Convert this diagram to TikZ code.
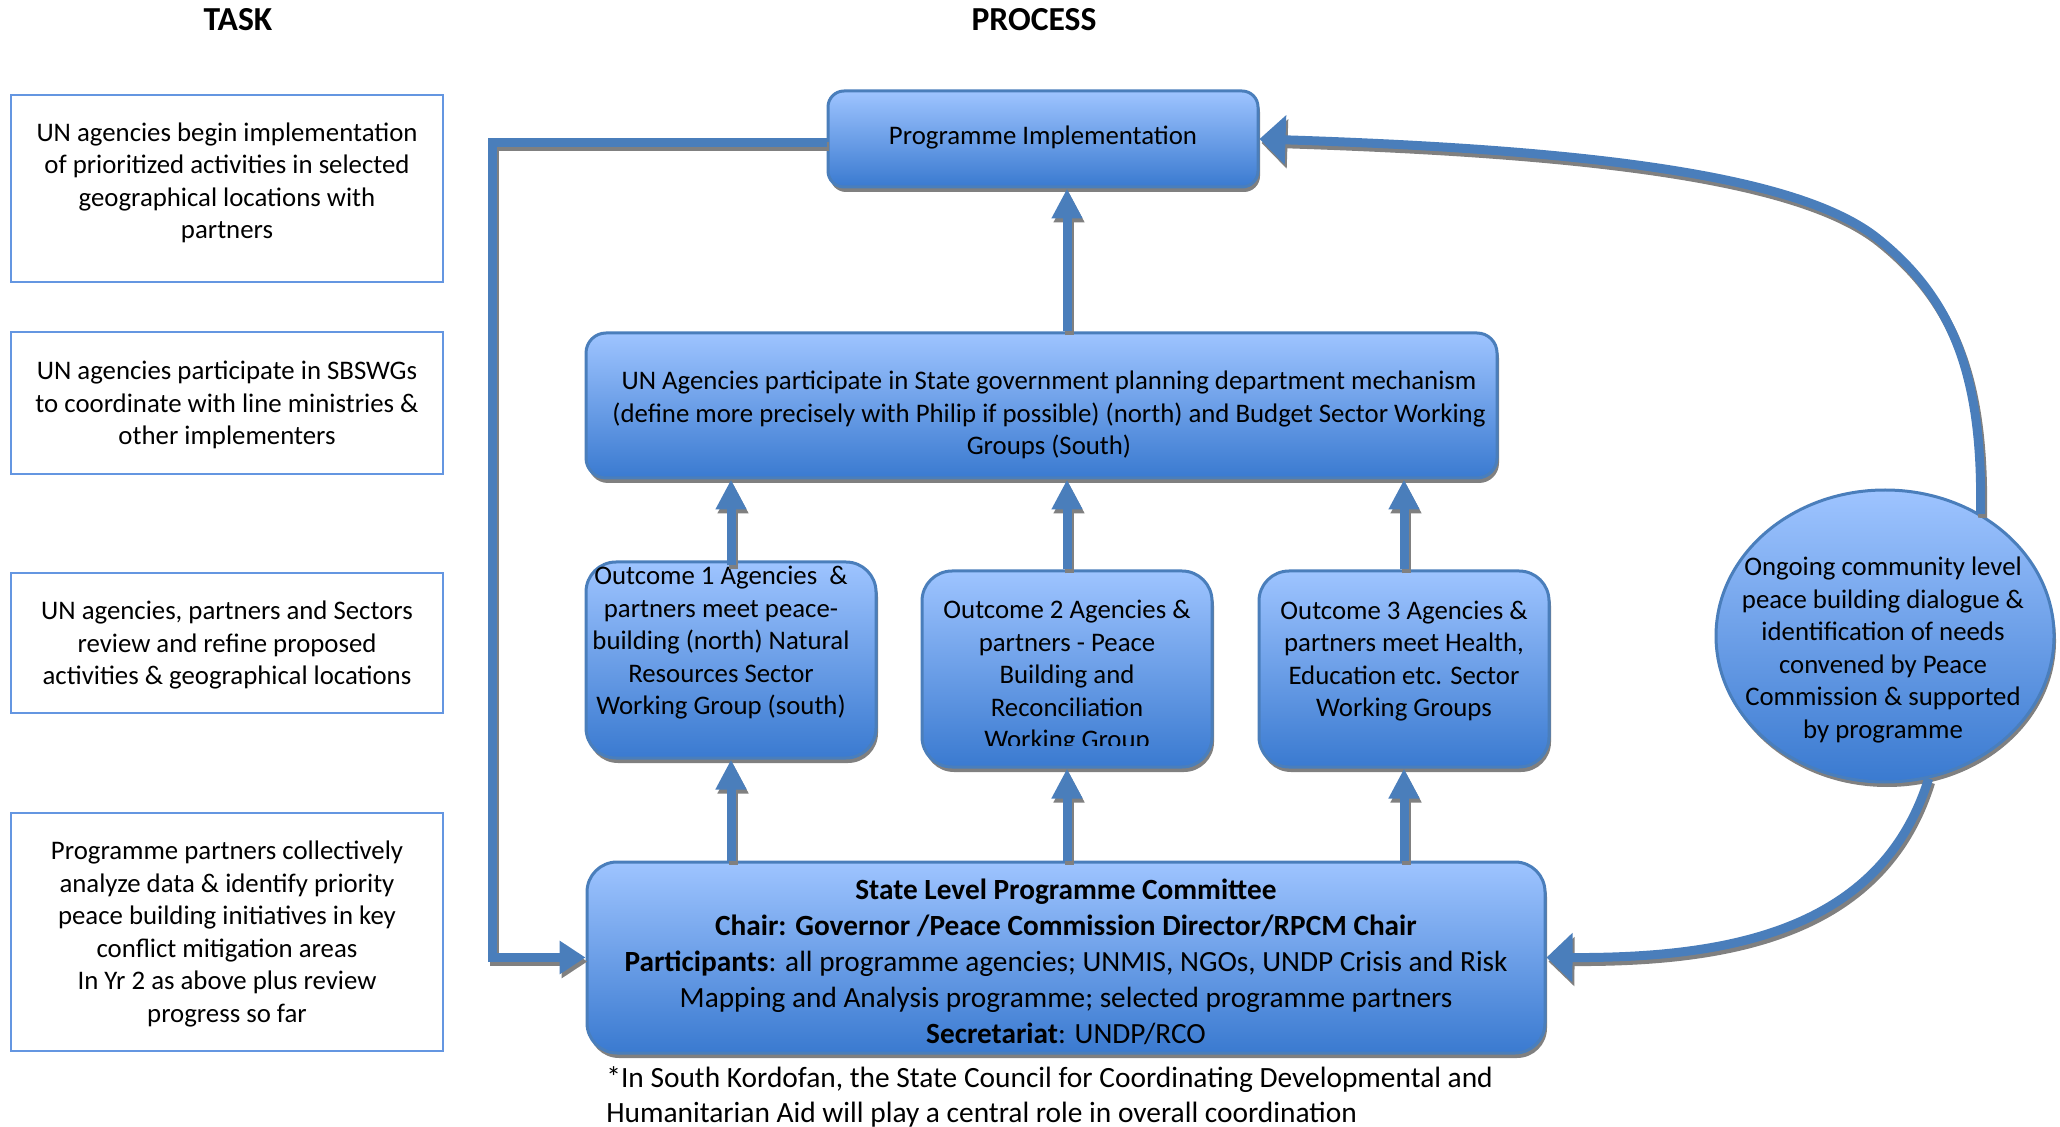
\documentclass[tikz,border=0pt]{standalone}
\usepackage{fontspec}
\setmainfont{Carlito}
\usetikzlibrary{arrows.meta,shapes.geometric,shadows}
\definecolor{boxtop}{RGB}{158,196,255}
\definecolor{boxbot}{RGB}{58,122,208}
\definecolor{boxline}{RGB}{74,126,187}
\definecolor{arrowblue}{RGB}{74,126,187}
\definecolor{shadowgray}{RGB}{128,128,128}
\definecolor{taskline}{RGB}{100,150,225}
\newcommand\bodyfont{\fontsize{13.4}{16.25}\selectfont}
\newcommand\statefont{\fontsize{14.65}{18}\selectfont}
\newcommand\notefont{\fontsize{14.7}{17.5}\selectfont}
\newcommand\headfont{\fontsize{16.8}{19}\selectfont\bfseries}
\tikzset{
  head/.style={font=\headfont, inner sep=0pt},
  taskbox/.style={draw=taskline, line width=1pt, fill=white},
  procbox/.style={draw=boxline, line width=1.5pt, top color=boxtop, bottom color=boxbot,
    drop shadow={shadow xshift=1pt, shadow yshift=-2.5pt, fill=shadowgray, opacity=1}},
  txt/.style={align=center, font=\bodyfont, inner sep=0pt, text=black},
  arrbase/.style={line width=4.5pt, draw=arrowblue, line join=miter},
  arrV/.style={arrbase, -{Triangle[length=15pt,width=14.5pt]}},
  arrL/.style={arrbase, -{Triangle[length=13pt,width=16pt]}},
  arrC/.style={arrbase, -{Triangle[length=13pt,width=24pt]}},
}
\newcommand\arrowset[1]{%
  \draw[arrL,#1] (pi.west |- ly) -| (lx) |- (st.west);
  \draw[arrV,#1] (un.north -| o2.center) -- (pi.south -| o2.center);
  \draw[arrV,#1] ([yshift=-2.5pt]o1.north) -- (o1.north |- un.south);
  \draw[arrV,#1] (o2.north) -- (o2.north |- un.south);
  \draw[arrV,#1] (o3.north) -- (o3.north |- un.south);
  \draw[arrV,#1] (st.north -| o1.center) -- (o1.south);
  \draw[arrV,#1] (st.north -| o2.center) -- (o2.south);
  \draw[arrV,#1] (st.north -| o3.center) -- (o3.south);
  \draw[arrC,#1] (el.52) .. controls (1983,-380) and (1955,-300) .. (cm)
     .. controls (1800,-177) and (1600,-150) .. (pi.east);
  \draw[arrC,#1] (el.-73) .. controls (1880,-935) and (1720,-958) .. (st.east);
}
\begin{document}
\begin{tikzpicture}[x=0.5pt,y=0.5pt]
\useasboundingbox (0,0) rectangle (2060,-1127);
% headings
\node[head] (htask) at (238,-20) {TASK};
\node[head] (hproc) at (1034,-20) {PROCESS};
% task boxes
\node[taskbox, minimum width=216pt, minimum height=93.5pt] (t1) at (227,-188.5) {};
\node[taskbox, minimum width=216pt, minimum height=71pt] (t2) at (227,-403) {};
\node[taskbox, minimum width=216pt, minimum height=70pt] (t3) at (227,-643) {};
\node[taskbox, minimum width=216pt, minimum height=119pt] (t4) at (227,-932) {};
\node[txt] (t1t) at (227,-183) {UN agencies begin implementation\\of prioritized activities in selected\\geographical locations with\\partners};
\node[txt] (t2t) at (227,-405) {UN agencies participate in SBSWGs\\to coordinate with line ministries \&\\other implementers};
\node[txt] (t3t) at (227,-645) {UN agencies, partners and Sectors\\review and refine proposed\\activities \& geographical locations};
\node[txt] (t4t) at (227,-934) {Programme partners collectively\\analyze data \& identify priority\\peace building initiatives in key\\conflict mitigation areas\\In Yr 2 as above plus review\\progress so far};
% process boxes
\node[procbox, rounded corners=8pt, minimum width=215pt, minimum height=48pt] (pi) at (1043,-139) {};
\node[procbox, rounded corners=10pt, minimum width=455.5pt, minimum height=72.5pt] (un) at (1041.5,-405.5) {};
\node[procbox, rounded corners=15pt, minimum width=145pt, minimum height=98pt] (o1) at (731,-660) {};
\node[procbox, rounded corners=15pt, minimum width=145pt, minimum height=98pt] (o2) at (1067,-669) {};
\node[procbox, rounded corners=15pt, minimum width=145pt, minimum height=98pt] (o3) at (1404,-669) {};
\node[procbox, rounded corners=15pt, minimum width=479pt, minimum height=95.5pt] (st) at (1066,-957.5) {};
\node[procbox, ellipse, inner sep=0pt, minimum width=169pt, minimum height=146pt] (el) at (1885,-636) {};
\coordinate (lx) at (492,-500);
\coordinate (ly) at (0,-143);
\coordinate (cm) at (1877,-238);
% texts
\node[txt] (pit) at (1043,-138) {Programme Implementation};
\node[txt] (unt) at (1049,-415) {UN Agencies participate in State government planning department mechanism\\(define more precisely with Philip if possible) (north) and Budget Sector Working\\Groups (South)};
\node[txt] (o1t) at (721,-643) {Outcome 1 Agencies\ \ \&\\partners meet peace-\\building (north) Natural\\Resources Sector\\Working Group (south)};
\begin{scope}
\clip (922,-571) rectangle (1212,-745);
\node[txt] (o2t) at (1067,-677) {Outcome 2 Agencies \&\\partners - Peace\\Building and\\Reconciliation\\Working Group};
\end{scope}
\node[txt] (o3t) at (1404,-661) {Outcome 3 Agencies \&\\partners meet Health,\\Education etc. Sector\\Working Groups};
\node[txt, font=\statefont] (stt) at (1066,-962) {\textbf{State Level Programme Committee}\\\textbf{Chair: Governor /Peace Commission Director/RPCM Chair}\\\textbf{Participants}: all programme agencies; UNMIS, NGOs, UNDP Crisis and Risk\\Mapping and Analysis programme; selected programme partners\\\textbf{Secretariat}: UNDP/RCO};
\node[txt] (elt) at (1883,-650) {Ongoing community level\\peace building dialogue \&\\identification of needs\\convened by Peace\\Commission \& supported\\by programme};
\node[txt, font=\notefont, align=left, anchor=west] (note) at (606,-1097) {*In South Kordofan, the State Council for Coordinating Developmental and\\Humanitarian Aid will play a central role in overall coordination};
% arrows
\begin{scope}[transform canvas={shift={(1pt,-2pt)}}]
\arrowset{draw=shadowgray}
\end{scope}
\arrowset{}
\end{tikzpicture}
\end{document}
